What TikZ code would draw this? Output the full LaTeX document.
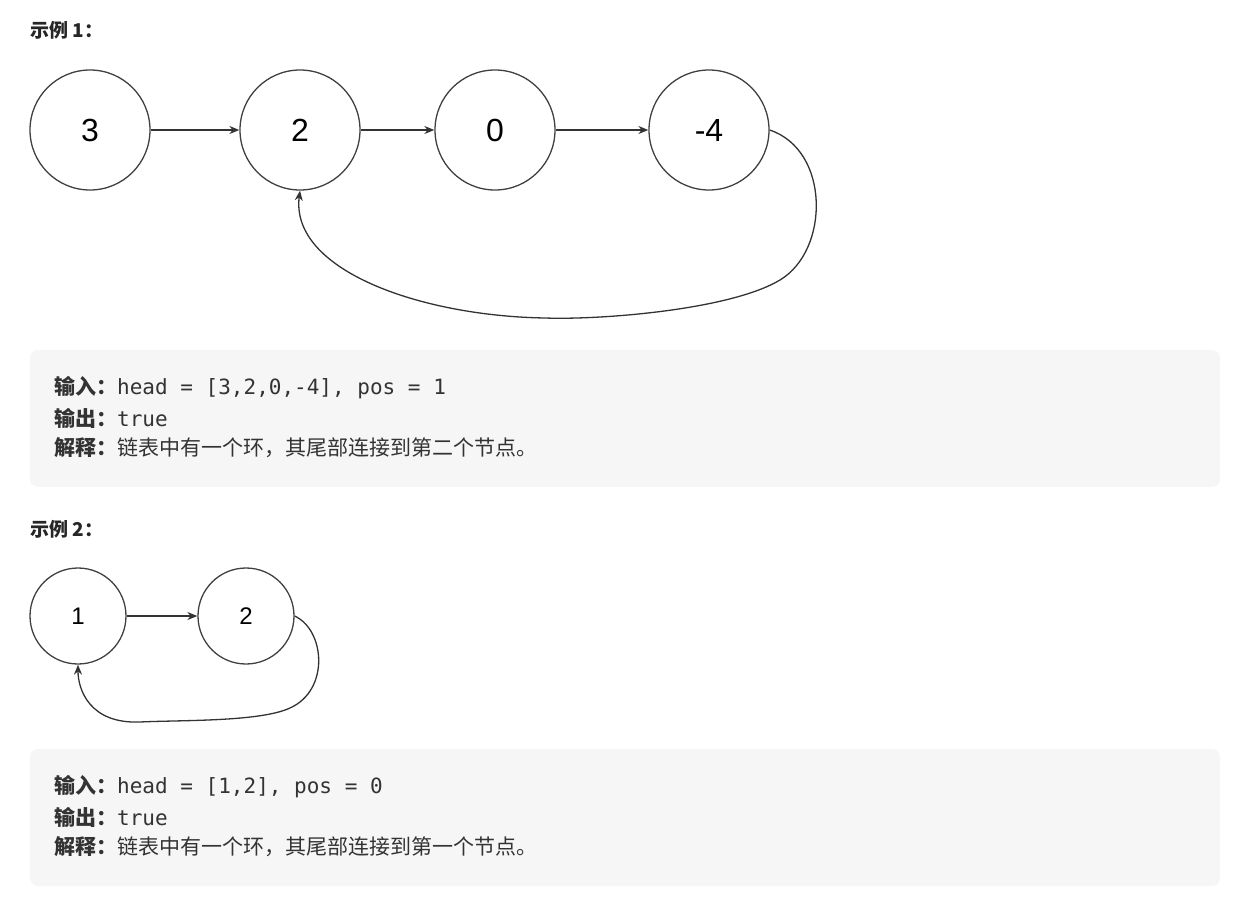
\documentclass[tikz,border=0pt]{standalone}
\usepackage{fontspec}
\setmainfont{Liberation Sans}
\newfontfamily\cjk{Noto Sans CJK SC}
\newfontfamily\code{DejaVu Sans Mono}
\usetikzlibrary{arrows.meta}
\newcommand\cdf{\code\fontsize{21}{20}\selectfont}
\begin{document}
\begin{tikzpicture}[x=1pt,y=-1pt,
  nd/.style={circle,draw=black!75,line width=1.3pt,inner sep=0pt},
  big/.style={nd,minimum size=120pt,font=\fontsize{32}{32}\selectfont},
  small/.style={nd,minimum size=96pt,font=\fontsize{24}{24}\selectfont},
  ar/.style={-{Stealth[length=10pt,width=8pt]},line width=1.3pt,draw=black!80},
  box/.style={fill=black!3.5,draw=none,rounded corners=8pt},
  hd/.style={anchor=west,inner sep=0pt,font=\cjk\bfseries\fontsize{19}{19}\selectfont,text=black!85},
  ln/.style={anchor=west,inner sep=0pt,font=\cjk\fontsize{21}{20}\selectfont,text=black!80}]
\useasboundingbox (0,0) rectangle (1238,899);
\node[hd] (t1) at (30,30) {示例 1：};
\node[big] (a) at (90,130) {3};
\node[big] (b) at (300,130) {2};
\node[big] (c) at (495,130) {0};
\node[big] (d) at (709,130) {-4};
\draw[ar] (a) -- (b);
\draw[ar] (b) -- (c);
\draw[ar] (c) -- (d);
\draw[ar] (d.east) .. controls (830,150) and (830,250) .. (780,280)
  .. controls (730,310) and (600,320) .. (545,318)
  .. controls (420,316) and (290,270) .. (b.south);
\fill[box] (30,350) rectangle (1220,487);
\node[ln] (l1) at (54,388) {{\bfseries 输入：}{\cdf head = [3,2,0,-4], pos = 1}};
\node[ln] (l2) at (54,418) {{\bfseries 输出：}{\cdf true}};
\node[ln] (l3) at (54,448) {{\bfseries 解释：}链表中有一个环，其尾部连接到第二个节点。};
\node[hd] (t2) at (30,529) {示例 2：};
\node[small] (e) at (78,616) {1};
\node[small] (f) at (246,616) {2};
\draw[ar] (e) -- (f);
\draw[ar] (f.east) .. controls (325,630) and (330,690) .. (290,708)
  .. controls (260,722) and (180,720) .. (140,722)
  .. controls (90,724) and (78,690) .. (e.south);
\fill[box] (30,749) rectangle (1220,886);
\node[ln] (m1) at (54,787) {{\bfseries 输入：}{\cdf head = [1,2], pos = 0}};
\node[ln] (m2) at (54,817) {{\bfseries 输出：}{\cdf true}};
\node[ln] (m3) at (54,847) {{\bfseries 解释：}链表中有一个环，其尾部连接到第一个节点。};
\end{tikzpicture}
\end{document}
